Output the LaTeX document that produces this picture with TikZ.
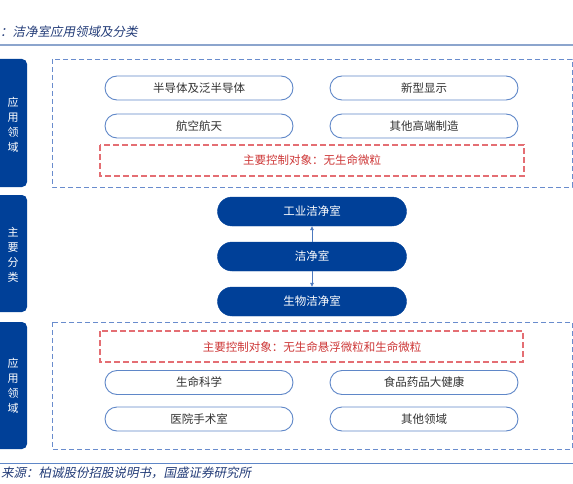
\documentclass[tikz,border=0pt]{standalone}
\usepackage{fontspec}
\newfontfamily\cjk{Noto Sans CJK SC}
\newfontfamily\cjkit{Noto Sans CJK SC}[FakeSlant=0.2]
\usetikzlibrary{shapes.misc,arrows.meta}
\definecolor{navy}{RGB}{0,64,152}
\definecolor{ellblue}{RGB}{95,135,200}
\definecolor{dashblue}{RGB}{105,140,205}
\definecolor{redd}{RGB}{228,110,115}
\definecolor{redtext}{RGB}{205,55,55}
\definecolor{titleblue}{RGB}{35,60,120}
\definecolor{lineblue}{RGB}{140,165,205}
\definecolor{txtgray}{RGB}{50,50,50}
\tikzset{
  pill/.style={rounded rectangle, draw=ellblue, line width=0.9pt, fill=white,
    minimum width=188pt, minimum height=24pt, inner sep=0pt, text=txtgray,
    font=\cjk\fontsize{11.5}{13}\selectfont},
  bluepill/.style={rounded rectangle, fill=navy, draw=navy,
    minimum width=189pt, minimum height=29pt, inner sep=0pt, text=white,
    font=\cjk\fontsize{11.5}{13}\selectfont},
  dashbox/.style={draw=dashblue, line width=0.9pt, dash pattern=on 5pt off 3pt},
  redbox/.style={draw=redd, line width=1.1pt, dash pattern=on 6pt off 3pt},
  redlabel/.style={text=redtext, font=\cjk\fontsize{11.5}{13}\selectfont},
  barfill/.style={fill=navy, rounded corners=5pt},
  bartext/.style={text=white, align=center, font=\cjk\fontsize{11}{15}\selectfont},
  link/.style={draw=ellblue!80!navy, line width=0.7pt, -{Triangle[length=4pt,width=3.5pt]}},
  note/.style={anchor=west, inner sep=0pt, text=titleblue, font=\cjkit\fontsize{12.5}{14}\selectfont}
}
\begin{document}
\begin{tikzpicture}[x=1pt,y=-1pt]
\useasboundingbox (0,0) rectangle (573,484);
\clip (0,0) rectangle (573,484);
% title
\node[note] (title) at (0,32) {：洁净室应用领域及分类};
\draw[lineblue, line width=1.6pt] (0,45) -- (573,45);
% left bars
\fill[barfill] (-10,59) rectangle (27,187);
\node[bartext] (b1) at (13,125) {应\\用\\领\\域};
\fill[barfill] (-10,195) rectangle (27,312);
\node[bartext] (b2) at (13,255) {主\\要\\分\\类};
\fill[barfill] (-10,322) rectangle (27,449);
\node[bartext] (b3) at (13,385.5) {应\\用\\领\\域};
% top area
\draw[dashbox] (52,59) rectangle (572,187);
\node[pill] (e1) at (199,88) {半导体及泛半导体};
\node[pill] (e2) at (424,88) {新型显示};
\node[pill] (e3) at (199,126) {航空航天};
\node[pill] (e4) at (424,126) {其他高端制造};
\draw[redbox] (100,145) rectangle (524,176);
\node[redlabel] (r1) at (312,160.5) {主要控制对象：无生命微粒};
% middle
\node[bluepill] (ind) at (312,211.5) {工业洁净室};
\node[bluepill] (cr) at (312,256.5) {洁净室};
\node[bluepill] (bio) at (312,301.5) {生物洁净室};
\draw[link] (cr.north) -- (ind.south);
\draw[link] (cr.south) -- (bio.north);
% bottom area
\draw[dashbox] (52,322) rectangle (572,449);
\draw[redbox] (100,331) rectangle (523,362);
\node[redlabel] (r2) at (312,347) {主要控制对象：无生命悬浮微粒和生命微粒};
\node[pill] (f1) at (199,382.5) {生命科学};
\node[pill] (f2) at (424,382.5) {食品药品大健康};
\node[pill] (f3) at (199,419) {医院手术室};
\node[pill] (f4) at (424,419) {其他领域};
% source
\draw[ellblue, line width=1pt] (0,463) -- (573,463);
\node[note] (src) at (1,473) {来源：柏诚股份招股说明书，国盛证券研究所};
\end{tikzpicture}
\end{document}
